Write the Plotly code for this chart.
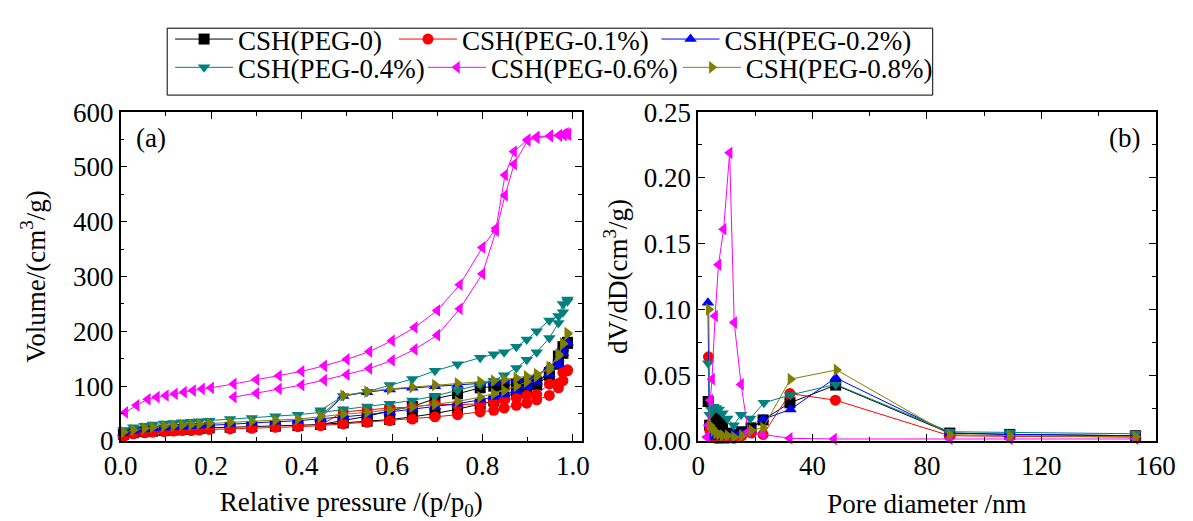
import plotly.graph_objects as go

# ---------------- (a) N2 adsorption-desorption isotherms ----------------
# relative pressures (p/p0) of the adsorption and desorption branches
P_ADS = [0.006, 0.028, 0.053, 0.071, 0.096, 0.117, 0.136, 0.156, 0.174, 0.196,
         0.242, 0.290, 0.342, 0.392, 0.442, 0.492, 0.545, 0.595, 0.645, 0.695,
         0.745, 0.795, 0.825, 0.848, 0.875, 0.898, 0.920, 0.948, 0.968, 0.978, 0.988]
P_DES = [0.988, 0.978, 0.968, 0.948, 0.920, 0.898, 0.875, 0.848, 0.825, 0.795,
         0.745, 0.695, 0.645, 0.595, 0.545, 0.492, 0.442]

# adsorbed volume, cm3/g
V_ADS_PEG0 = [12, 15, 17, 18, 19, 20, 21, 22, 23, 24, 25, 26, 27, 28, 30, 33, 36, 39,
              44, 50, 58, 67, 73, 80, 88, 95, 103, 120, 140, 160, 180]
V_DES_PEG0 = [178, 172, 155, 125, 108, 105, 103, 102, 100, 97, 86, 77, 63, 55, 45, 37, 30]

V_ADS_PEG01 = [8, 13, 15, 16, 17, 18, 19, 19, 20, 21, 22, 23, 25, 26, 28, 31, 34, 37,
               40, 44, 48, 53, 56, 60, 65, 69, 75, 83, 97, 110, 128]
V_DES_PEG01 = [130, 125, 105, 104, 85, 83, 78, 75, 71, 68, 66, 67, 62, 60, 57, 53, 29]

V_ADS_PEG02 = [14, 18, 21, 23, 24, 25, 26, 27, 28, 29, 31, 33, 35, 37, 40, 44, 48, 53,
               58, 63, 68, 75, 80, 85, 92, 100, 108, 122, 140, 160, 178]
V_DES_PEG02 = [180, 170, 150, 135, 120, 115, 112, 110, 107, 105, 102, 100, 97, 94, 89, 82, 42]

V_ADS_PEG04 = [20, 25, 28, 30, 32, 33, 34, 35, 36, 37, 40, 42, 45, 48, 52, 58, 63, 68,
               74, 82, 92, 103, 110, 120, 133, 148, 162, 188, 215, 235, 255]
V_DES_PEG04 = [258, 250, 228, 220, 200, 185, 172, 162, 158, 152, 140, 128, 113, 102, 90, 82, 56]

V_ADS_PEG08 = [16, 20, 23, 25, 27, 28, 29, 30, 31, 32, 34, 36, 38, 40, 44, 49, 52, 57,
               62, 67, 72, 80, 86, 92, 100, 108, 118, 135, 155, 178, 197]
V_DES_PEG08 = [195, 177, 158, 130, 122, 118, 115, 112, 110, 108, 105, 102, 98, 95, 90, 83, 46]

# PEG-0.6 % has its own pressure points
P_ADS_PEG06 = [0.25, 0.30, 0.35, 0.40, 0.45, 0.50, 0.55, 0.60, 0.65, 0.70, 0.75, 0.80,
               0.83, 0.85, 0.87, 0.90, 0.92, 0.95, 0.97, 0.98, 0.99]
V_ADS_PEG06 = [80, 87, 95, 102, 111, 121, 132, 147, 167, 193, 241, 305,
               383, 448, 505, 548, 553, 556, 557, 558, 559]
P_DES_PEG06 = [0.99, 0.985, 0.98, 0.97, 0.95, 0.92, 0.90, 0.87, 0.85, 0.83, 0.80, 0.75,
               0.70, 0.65, 0.60, 0.55, 0.50, 0.45, 0.40, 0.35, 0.30, 0.25, 0.20, 0.18,
               0.16, 0.14, 0.12, 0.10, 0.08, 0.06, 0.035, 0.01]
V_DES_PEG06 = [560, 561, 560, 558, 557, 555, 550, 528, 485, 388, 353, 285,
               238, 207, 183, 163, 149, 137, 127, 119, 112, 104, 97, 95,
               92, 89, 86, 83, 80, 76, 65, 52]

# ---------------- (b) BJH pore size distribution ----------------
D_PEG0 = [3.5, 4.0, 4.6, 5.3, 6.2, 7.2, 8.5, 10.2, 12.4, 15.2, 18.5, 22.7, 32.1, 48.1, 88, 109, 153]
Q_PEG0 = [0.030, 0.012, 0.010, 0.015, 0.020, 0.018, 0.012, 0.006, 0.005, 0.007, 0.010,
          0.016, 0.029, 0.0425, 0.006, 0.005, 0.004]
D_PEG01 = [3.6, 4.1, 4.7, 5.4, 6.3, 7.3, 8.6, 10.3, 12.5, 15.3, 18.6, 22.7, 32.1, 48.0, 88, 109, 153]
Q_PEG01 = [0.064, 0.008, 0.004, 0.003, 0.002, 0.002, 0.002, 0.002, 0.002, 0.004, 0.006,
           0.005, 0.036, 0.031, 0.004, 0.0035, 0.003]
D_PEG02 = [3.4, 3.9, 4.5, 5.2, 6.0, 7.0, 8.3, 10.0, 12.2, 15.0, 18.3, 22.7, 32.3, 48.1, 88, 109, 153]
Q_PEG02 = [0.105, 0.004, 0.003, 0.003, 0.003, 0.003, 0.004, 0.004, 0.005, 0.006, 0.008,
           0.0165, 0.024, 0.048, 0.006, 0.005, 0.004]
D_PEG04 = [3.5, 4.0, 4.6, 5.3, 6.2, 7.2, 8.5, 10.2, 12.4, 15.0, 18.2, 23.0, 32.3, 48.1, 88, 109, 153]
Q_PEG04 = [0.059, 0.020, 0.024, 0.026, 0.025, 0.024, 0.021, 0.017, 0.012, 0.020, 0.017,
           0.029, 0.035, 0.043, 0.007, 0.0065, 0.0055]
D_PEG06 = [3.0, 3.5, 4.2, 4.85, 5.9, 7.1, 8.9, 11.0, 12.6, 15.0, 17.5, 22.6, 32.0, 47.5, 88, 109, 153]
Q_PEG06 = [0.003, 0.012, 0.031, 0.047, 0.095, 0.134, 0.161, 0.219, 0.090, 0.043, 0.007,
           0.005, 0.002, 0.0015, 0.0015, 0.0015, 0.0015]
D_PEG08 = [3.7, 4.1, 4.7, 5.4, 6.3, 7.3, 8.6, 10.3, 12.5, 15.3, 18.6, 22.7, 32.3, 48.4, 88, 109, 153]
Q_PEG08 = [0.100, 0.012, 0.010, 0.008, 0.006, 0.005, 0.004, 0.004, 0.003, 0.004, 0.008,
           0.010, 0.047, 0.054, 0.0048, 0.004, 0.003]

NAMES = ["CSH(PEG-0)", "CSH(PEG-0.1%)", "CSH(PEG-0.2%)",
         "CSH(PEG-0.4%)", "CSH(PEG-0.6%)", "CSH(PEG-0.8%)"]
COLORS = ["#000000", "#FF0000", "#0000FF", "#008080", "#FF00FF", "#808000"]
SYMBOLS = ["square", "circle", "triangle-up", "triangle-down", "triangle-left", "triangle-right"]

iso_x = [P_ADS + P_DES, P_ADS + P_DES, P_ADS + P_DES,
         P_ADS + P_DES, P_ADS_PEG06 + P_DES_PEG06, P_ADS + P_DES]
iso_y = [V_ADS_PEG0 + V_DES_PEG0, V_ADS_PEG01 + V_DES_PEG01, V_ADS_PEG02 + V_DES_PEG02,
         V_ADS_PEG04 + V_DES_PEG04, V_ADS_PEG06 + V_DES_PEG06, V_ADS_PEG08 + V_DES_PEG08]
psd_x = [D_PEG0, D_PEG01, D_PEG02, D_PEG04, D_PEG06, D_PEG08]
psd_y = [Q_PEG0, Q_PEG01, Q_PEG02, Q_PEG04, Q_PEG06, Q_PEG08]

FONT = "Liberation Serif"
FS = 27
W, H = 1193, 521

fig = go.Figure()
legend_ids = ["legend", "legend2", "legend3", "legend4", "legend5", "legend6"]

for i in range(6):
    common = dict(mode="lines+markers",
                  line=dict(color=COLORS[i], width=1),
                  marker=dict(symbol=SYMBOLS[i], color=COLORS[i], size=11),
                  cliponaxis=False, name=NAMES[i])
    fig.add_trace(go.Scatter(x=iso_x[i], y=iso_y[i], xaxis="x", yaxis="y",
                             legend=legend_ids[i], showlegend=True, **common))
    fig.add_trace(go.Scatter(x=psd_x[i], y=psd_y[i], xaxis="x2", yaxis="y2",
                             showlegend=False, **common))

# plot-area geometry in pixels
LX0, LX1 = 107, 583
RX0, RX1 = 703, 1175
PY0, PY1 = 103, 452
ydom = [1 - PY1 / H, 1 - PY0 / H]

axis_style = dict(showline=True, linecolor="black", linewidth=1.5, mirror="ticks",
                  ticks="inside", ticklen=7, tickwidth=1.2, tickcolor="black",
                  showgrid=False, zeroline=False,
                  tickfont=dict(family=FONT, size=FS, color="black"))

fig.update_layout(
    width=W, height=H,
    margin=dict(l=0, r=0, t=0, b=0),
    paper_bgcolor="white", plot_bgcolor="white",
    font=dict(family=FONT, size=FS, color="black"),
    xaxis=dict(domain=[LX0 / W, LX1 / W], range=[0, 1.02], tick0=0, dtick=0.2,
               tickformat=".1f", anchor="y",
               minor=dict(dtick=0.1, ticklen=4, ticks="inside", tickcolor="black"),
               title=dict(text="Relative pressure /(p/p<sub>0</sub>)",
                          font=dict(family=FONT, size=FS), standoff=14),
               **axis_style),
    yaxis=dict(domain=ydom, range=[0, 600], tick0=0, dtick=100, anchor="x",
               minor=dict(dtick=50, ticklen=4, ticks="inside", tickcolor="black"),
               title=dict(text="Volume/(cm<sup>3</sup>/g)",
                          font=dict(family=FONT, size=FS), standoff=20),
               **axis_style),
    xaxis2=dict(domain=[RX0 / W, RX1 / W], range=[0, 160], tick0=0, dtick=40,
                anchor="y2",
                minor=dict(dtick=20, ticklen=4, ticks="inside", tickcolor="black"),
                title=dict(text="Pore diameter /nm",
                           font=dict(family=FONT, size=FS), standoff=14),
                **axis_style),
    yaxis2=dict(domain=ydom, range=[0, 0.25], tick0=0, dtick=0.05, tickformat=".2f",
                anchor="x2",
                minor=dict(dtick=0.025, ticklen=4, ticks="inside", tickcolor="black"),
                title=dict(text="dV/dD(cm<sup>3</sup>/g)",
                           font=dict(family=FONT, size=FS), standoff=8),
                **axis_style),
    annotations=[
        dict(text="(a)", x=138 / W, y=1 - 130 / H, xref="paper", yref="paper",
             showarrow=False, xanchor="center", yanchor="middle",
             font=dict(family=FONT, size=FS)),
        dict(text="(b)", x=1143 / W, y=1 - 130 / H, xref="paper", yref="paper",
             showarrow=False, xanchor="center", yanchor="middle",
             font=dict(family=FONT, size=FS)),
    ],
    shapes=[dict(type="rect", xref="paper", yref="paper",
                 x0=155 / W, x1=945 / W, y0=1 - 85 / H, y1=1 - 14 / H,
                 line=dict(color="black", width=1), fillcolor="rgba(0,0,0,0)")],
)

# one legend per entry, laid out in two rows inside the frame
leg_pos = [(158, 26), (389, 26), (660, 26), (158, 56), (419, 56), (682, 56)]
for lid, (px, py) in zip(legend_ids, leg_pos):
    fig.update_layout({lid: dict(x=px / W, y=1 - py / H, xanchor="left", yanchor="middle",
                                 orientation="h", bgcolor="rgba(0,0,0,0)", borderwidth=0,
                                 itemwidth=58,
                                 font=dict(family=FONT, size=FS, color="black"))})

fig.write_html("out.html")
